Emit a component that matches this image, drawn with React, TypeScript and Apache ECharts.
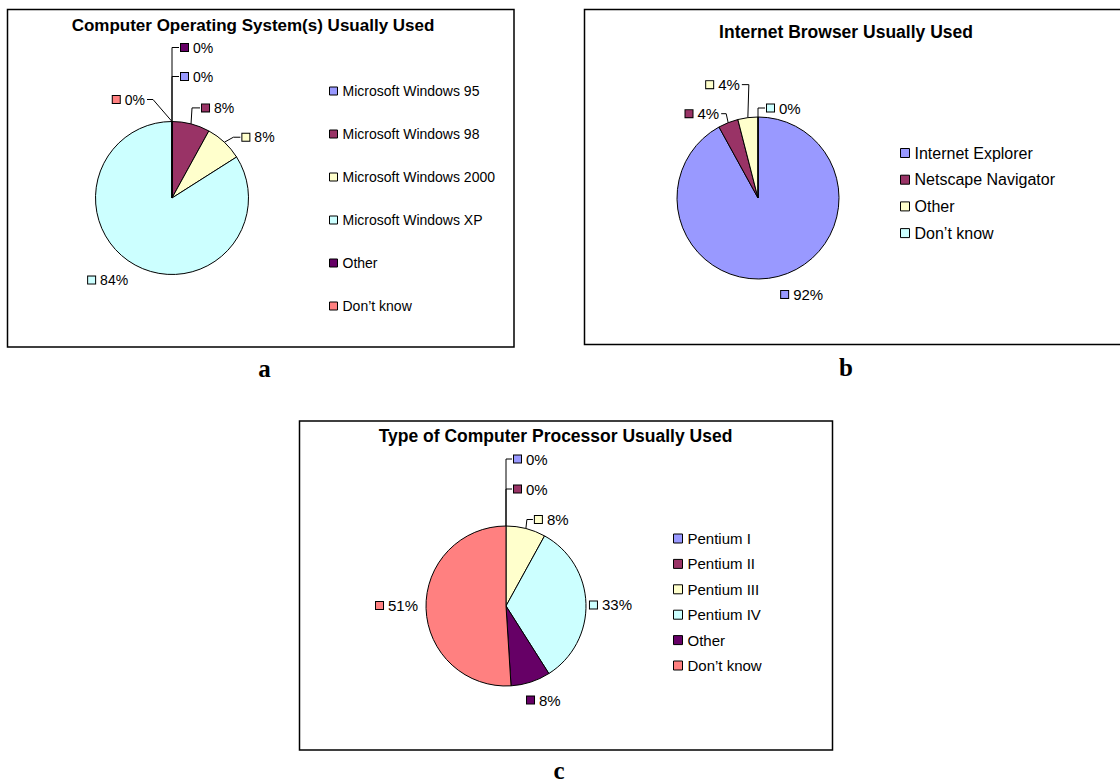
import React, { useEffect, useRef } from "react";
import * as echarts from "echarts";

// Survey results, in percent of respondents
const osCategories = [
  "Microsoft Windows 95",
  "Microsoft Windows 98",
  "Microsoft Windows 2000",
  "Microsoft Windows XP",
  "Other",
  "Don\u2019t know",
];
const osValues = [0, 8, 8, 84, 0, 0];

const browserCategories = ["Internet Explorer", "Netscape Navigator", "Other", "Don\u2019t know"];
const browserValues = [92, 4, 4, 0];

const cpuCategories = ["Pentium I", "Pentium II", "Pentium III", "Pentium IV", "Other", "Don\u2019t know"];
const cpuValues = [0, 0, 8, 33, 8, 51];

const panelTitles = [
  "Computer Operating System(s) Usually Used",
  "Internet Browser Usually Used",
  "Type of Computer Processor Usually Used",
];
const panelLetters = ["a", "b", "c"];

// Classic office chart fill colours, in series order
const palette = ["#9999FF", "#993366", "#FFFFCC", "#CCFFFF", "#660066", "#FF8080"];

const SANS = '"Liberation Sans", Arial, Helvetica, sans-serif';
const SERIF = '"Liberation Serif", "Times New Roman", serif';

// Leader-line placement for each data label: bend offset from the slice edge,
// horizontal tick length and the side the label sits on.
type Place = { bx: number; by: number; tick: number; side: 1 | -1 };

const osPlaces: Place[] = [
  { bx: 0, by: -45, tick: 7, side: 1 },
  { bx: 1, by: -16, tick: 8, side: 1 },
  { bx: 9, by: -5, tick: 7, side: 1 },
  { bx: -5, by: 15, tick: 0, side: -1 },
  { bx: 0, by: -74, tick: 7, side: 1 },
  { bx: -19, by: -22, tick: 6, side: -1 },
];
const browserPlaces: Place[] = [
  { bx: 1, by: 18, tick: 0, side: 1 },
  { bx: -2, by: -9, tick: 5, side: -1 },
  { bx: 1, by: -33, tick: 7, side: -1 },
  { bx: 0, by: -9, tick: 7, side: 1 },
];
const cpuPlaces: Place[] = [
  { bx: 0, by: -67, tick: 6, side: 1 },
  { bx: 0, by: -37, tick: 6, side: 1 },
  { bx: 1, by: -9, tick: 6, side: 1 },
  { bx: 2, by: 1.5, tick: 0, side: 1 },
  { bx: -5.7, by: 18, tick: 0, side: 1 },
  { bx: -6, by: -3, tick: 0, side: -1 },
];

type PanelCfg = {
  names: string[];
  values: number[];
  places: Place[];
  center: [number, number];
  radius: number;
  labelSize: number;
};

function edgePoint(values: number[], idx: number, cx: number, cy: number, r: number): [number, number] {
  const total = values.reduce((s, v) => s + v, 0);
  let before = 0;
  for (let k = 0; k < idx; k++) before += values[k];
  const a = ((before + values[idx] / 2) / total) * Math.PI * 2;
  return [cx + r * Math.sin(a), cy - r * Math.cos(a)];
}

function pieSeries(cfg: PanelCfg): any {
  const rich: Record<string, any> = {
    t: { fontSize: cfg.labelSize, fontFamily: SANS, color: "#000", padding: [0, 0, 0, 5] },
  };
  cfg.names.forEach((_, i) => {
    rich["k" + i] = {
      width: 7,
      height: 7,
      backgroundColor: palette[i],
      borderColor: "#000",
      borderWidth: 1,
    };
  });
  const [cx, cy] = cfg.center;
  return {
    type: "pie",
    center: cfg.center,
    radius: cfg.radius,
    startAngle: 90,
    clockwise: true,
    avoidLabelOverlap: false,
    silent: true,
    emphasis: { disabled: true },
    itemStyle: { borderColor: "#000", borderWidth: 1 },
    label: {
      show: true,
      position: "outside",
      color: "#000",
      fontFamily: SANS,
      fontSize: cfg.labelSize,
      formatter: (p: any) => `{k${p.dataIndex}|}{t|${p.value}%}`,
      rich,
    },
    labelLine: { show: true, length: 8, length2: 6, lineStyle: { color: "#000", width: 1 } },
    labelLayout: (params: any) => {
      const i = params.dataIndex;
      const pl = cfg.places[i];
      const [px, py] = edgePoint(cfg.values, i, cx, cy, cfg.radius);
      const bx = px + pl.bx;
      const by = py + pl.by;
      const ex = bx + pl.side * pl.tick;
      const pts =
        pl.tick > 0
          ? [
              [px, py],
              [bx, by],
              [ex, by],
            ]
          : [
              [px, py],
              [px, py],
              [px, py],
            ];
      return {
        x: ex + pl.side * 2,
        y: by,
        align: pl.side > 0 ? "left" : "right",
        verticalAlign: "middle",
        labelLinePoints: pts,
      };
    },
    data: cfg.names.map((n, i) => ({ name: n, value: cfg.values[i], itemStyle: { color: palette[i] } })),
  };
}

function legendFor(names: string[], left: number, top: number, gap: number, size: number, fontSize: number): any {
  return {
    orient: "vertical",
    left,
    top,
    padding: 0,
    itemGap: gap,
    itemWidth: size,
    itemHeight: size,
    icon: "rect",
    selectedMode: false,
    itemStyle: { borderColor: "#000", borderWidth: 1 },
    textStyle: { color: "#000", fontFamily: SANS, fontSize },
    data: names.map((n, i) => ({ name: n, itemStyle: { color: palette[i], borderColor: "#000", borderWidth: 1 } })),
  };
}

export default function App() {
  const ref = useRef<HTMLDivElement>(null);

  useEffect(() => {
    document.body.style.margin = "0";
    if (!ref.current) return;
    const chart = echarts.init(ref.current, null, { renderer: "svg" });

    const frame = (x: number, y: number, w: number, h: number) => ({
      type: "rect",
      shape: { x, y, width: w, height: h },
      style: { fill: "none", stroke: "#000", lineWidth: 1.5 },
      silent: true,
    });
    const heading = (text: string, x: number, y: number, size: number) => ({
      type: "text",
      x,
      y,
      style: { text, font: `bold ${size}px ${SANS}`, fill: "#000", align: "center", verticalAlign: "middle" },
      silent: true,
    });
    const letter = (text: string, x: number, y: number) => ({
      type: "text",
      x,
      y,
      style: { text, font: `bold 25px ${SERIF}`, fill: "#000", align: "center", verticalAlign: "middle" },
      silent: true,
    });

    chart.setOption({
      animation: false,
      backgroundColor: "#fff",
      legend: [
        legendFor(osCategories, 329, 84, 29, 8, 14),
        legendFor(browserCategories, 900, 145, 10.7, 9, 16),
        legendFor(cpuCategories, 673, 531, 10.4, 9, 15),
      ],
      series: [
        pieSeries({ names: osCategories, values: osValues, places: osPlaces, center: [172, 198], radius: 76.5, labelSize: 14 }),
        pieSeries({
          names: browserCategories,
          values: browserValues,
          places: browserPlaces,
          center: [758, 198],
          radius: 81,
          labelSize: 15,
        }),
        pieSeries({ names: cpuCategories, values: cpuValues, places: cpuPlaces, center: [506, 606], radius: 80, labelSize: 15 }),
      ],
      graphic: [
        frame(7.5, 9.5, 506.5, 337.5),
        frame(584.5, 9.5, 537, 335),
        frame(299.5, 421, 533, 329),
        heading(panelTitles[0], 253, 25, 17),
        heading(panelTitles[1], 846, 31.6, 17.5),
        heading(panelTitles[2], 555.5, 435.6, 17.5),
        letter(panelLetters[0], 264.5, 368.5),
        letter(panelLetters[1], 846, 367.5),
        letter(panelLetters[2], 559, 770),
      ],
    });

    return () => chart.dispose();
  }, []);

  return <div ref={ref} style={{ width: 1120, height: 784 }} />;
}
